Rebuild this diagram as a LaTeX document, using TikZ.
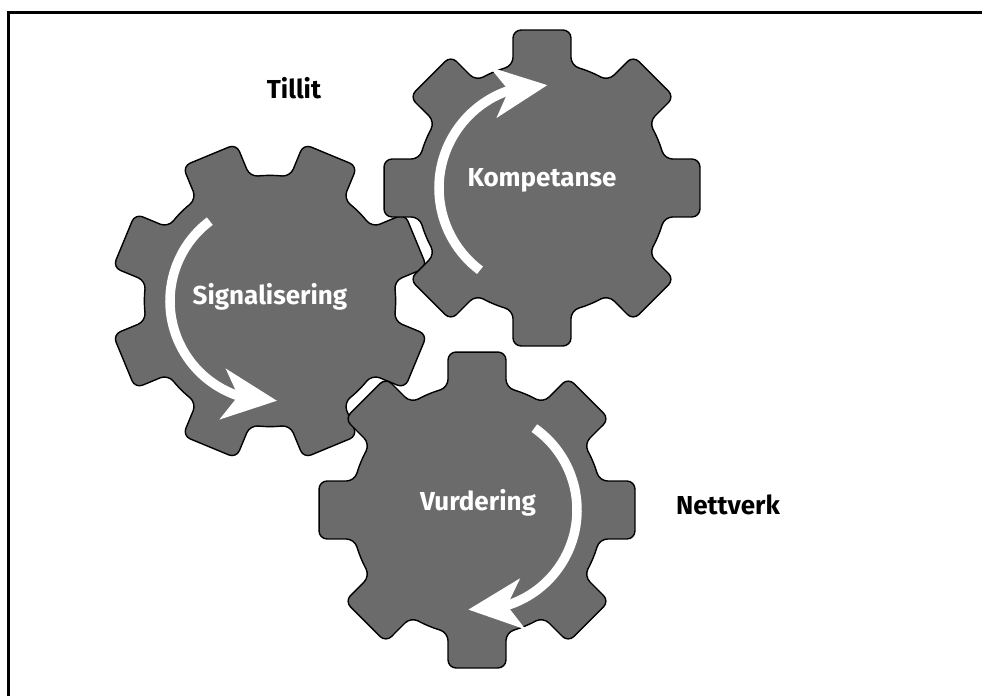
\documentclass[tikz,border=0pt]{standalone}
\usepackage{fontspec}
\setsansfont{Fira Sans}
\usetikzlibrary{arrows.meta, bending}

\definecolor{cogfill}{RGB}{107,107,107}

% one cog: centre, rotation
\newcommand{\cog}[2]{%
  \begin{scope}[shift={(#1)}, rotate=#2]
    \path[gear] (-13.3:126) -- (-10.4:160.6) -- (10.4:160.6) -- (13.3:126) -- (22.5:126)
      \foreach \a in {45,90,...,315} {
        -- (\a-13.3:126) -- (\a-10.4:160.6) -- (\a+10.4:160.6) -- (\a+13.3:126) -- (\a+22.5:126)
      } -- cycle;
  \end{scope}}

\begin{document}
\begin{tikzpicture}[
      x=1pt, y=-1pt,
      gear/.style={fill=cogfill, draw=black, line width=1.4pt, rounded corners=8pt},
      turn/.style={draw=white, line width=9.5pt, -{Stealth[length=54pt, width=50pt, inset=15pt]}},
      gearlabel/.style={text=white, font=\sffamily\bfseries\fontsize{26}{30}\selectfont},
      sidelabel/.style={text=black, font=\sffamily\bfseries\fontsize{26}{30}\selectfont}
    ]
    \useasboundingbox (0,0) rectangle (982,696);
    \draw[line width=3pt] (982,12.5) -- (8,12.5) -- (8,696);

    \coordinate (sigc) at (270,301);
    \coordinate (komc) at (542,188);
    \coordinate (vurc) at (477,510);

    \cog{sigc}{22.5}
    \cog{komc}{0}
    \cog{vurc}{0}

    \draw[turn] ([shift={(233:100)}]sigc) arc[start angle=233, end angle=86, radius=100];
    \draw[turn] ([shift={(127:103)}]komc) arc[start angle=127, end angle=273, radius=103];
    \draw[turn] ([shift={(-55:100)}]vurc) arc[start angle=-55, end angle=95, radius=100];

    \node[gearlabel] (sig) at (270,297) {Signalisering};
    \node[gearlabel] (kom) at (542,180) {Kompetanse};
    \node[gearlabel] (vur) at (478,503) {Vurdering};
    \node[sidelabel] (tillit) at (294,88) {Tillit};
    \node[sidelabel] (nett) at (728,505) {Nettverk};
\end{tikzpicture}
\end{document}
